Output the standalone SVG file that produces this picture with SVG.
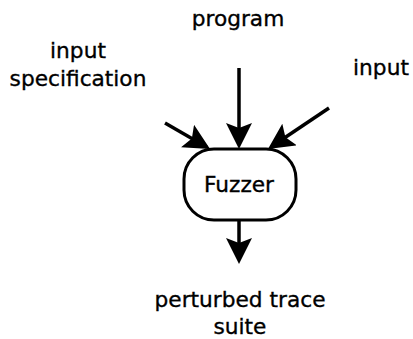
<svg xmlns="http://www.w3.org/2000/svg" width="413" height="339" viewBox="0 0 413 339">
  <style>
    text { font-family: "DejaVu Sans", "Liberation Sans", sans-serif; font-size: 21.7px; fill: #000; stroke: #000; stroke-width: 0.35; text-anchor: middle; }
    .edge { stroke: #000; stroke-width: 3.5; fill: none; }
    .node { fill: #fff; stroke: #000; stroke-width: 3; }
  </style>
  <defs>
    <marker id="arrow" viewBox="0 0 26 26" refX="22" refY="13" markerWidth="26" markerHeight="26" markerUnits="userSpaceOnUse" orient="auto">
      <path d="M0,0 L26,13 L0,26 L5,13 z" fill="#000"/>
    </marker>
  </defs>

  <!-- labels of the inputs and output -->
  <g id="program">
    <text x="238" y="26">program</text>
  </g>
  <g id="input-specification">
    <text x="78" y="58">input</text>
    <text x="78" y="86">specification</text>
  </g>
  <g id="input">
    <text x="381" y="75">input</text>
  </g>
  <g id="perturbed-trace-suite">
    <text x="240" y="307">perturbed trace</text>
    <text x="240" y="334">suite</text>
  </g>

  <!-- connectors -->
  <g id="connectors">
    <line class="edge" x1="239" y1="68" x2="239" y2="145" marker-end="url(#arrow)"/>
    <line class="edge" x1="165" y1="123" x2="206.6" y2="147" marker-end="url(#arrow)"/>
    <line class="edge" x1="329" y1="108" x2="271.3" y2="146.8" marker-end="url(#arrow)"/>
    <line class="edge" x1="239" y1="220" x2="239" y2="260" marker-end="url(#arrow)"/>
  </g>

  <!-- the fuzzer node -->
  <g id="fuzzer">
    <rect class="node" x="184" y="149" width="112" height="71" rx="30" ry="30"/>
    <text x="239" y="192">Fuzzer</text>
  </g>
</svg>
